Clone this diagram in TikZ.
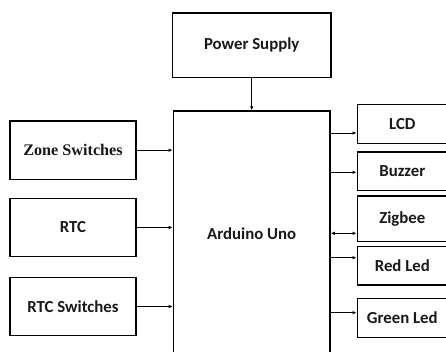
\documentclass[tikz,border=0pt]{standalone}
\usepackage{fontspec}
\setmainfont{Carlito}
\newfontfamily\serifbf{Liberation Serif}
\usetikzlibrary{arrows.meta}
\tikzset{
  box/.style={draw=black, line width=1.4pt, rectangle, inner sep=0pt, font=\fontsize{16.8}{19}\selectfont\bfseries, text=black!90},
  arr/.style={line width=0.8pt, -{Latex[length=4pt,width=3.5pt]}},
  darr/.style={line width=0.8pt, {Latex[length=4pt,width=3.5pt]}-{Latex[length=4pt,width=3.5pt]}}
}
\begin{document}
\begin{tikzpicture}[x=1pt,y=-1pt]
\useasboundingbox (0,0) rectangle (446,352);
\clip (0,0) rectangle (446,352);
\fill[white] (0,0) rectangle (446,352);
% top and centre
\node[box, minimum width=158.7pt, minimum height=64.6pt] (ps) at (251.7,45.3) {Power Supply};
\node[box, minimum width=156.7pt, minimum height=246pt] (ard) at (251.7,234) {Arduino Uno};
% left
\node[box, minimum width=126pt, minimum height=58.3pt, font=\fontsize{16.2}{18}\selectfont\serifbf\bfseries] (zs) at (73,150.2) {Zone Switches};
\node[box, minimum width=126pt, minimum height=58pt] (rtc) at (73,227.5) {RTC};
\node[box, minimum width=126pt, minimum height=57.6pt] (rtcs) at (73,306.5) {RTC Switches};
% right
\node[box, minimum width=90pt, minimum height=39pt] (lcd) at (402.3,123.8) {LCD};
\node[box, minimum width=90pt, minimum height=38.7pt] (buz) at (402.3,171.3) {Buzzer};
\node[box, minimum width=90pt, minimum height=45.3pt] (zig) at (402.3,218.7) {Zigbee};
\node[box, minimum width=90pt, minimum height=38.3pt] (red) at (402.3,265.8) {Red Led};
\node[box, minimum width=90pt, minimum height=39pt] (grn) at (402.3,317.8) {Green Led};
% connectors
\draw[arr] (ps.south) -- (ard.north);
\draw[arr] (zs.east) -- (zs.east -| ard.west);
\draw[arr] (rtc.east) -- (rtc.east -| ard.west);
\draw[arr] (rtcs.east) -- (rtcs.east -| ard.west);
\draw[arr] ([yshift=-9.2pt]lcd.west -| ard.east) -- ([yshift=-9.2pt]lcd.west);
\draw[arr] ([yshift=-1pt]buz.west -| ard.east) -- ([yshift=-1pt]buz.west);
\draw[darr] ([yshift=-14.6pt]zig.west -| ard.east) -- ([yshift=-14.6pt]zig.west);
\draw[arr] ([yshift=8.1pt]red.west -| ard.east) -- ([yshift=8.1pt]red.west);
\draw[arr] ([yshift=5.1pt]grn.west -| ard.east) -- ([yshift=5.1pt]grn.west);
\end{tikzpicture}
\end{document}
